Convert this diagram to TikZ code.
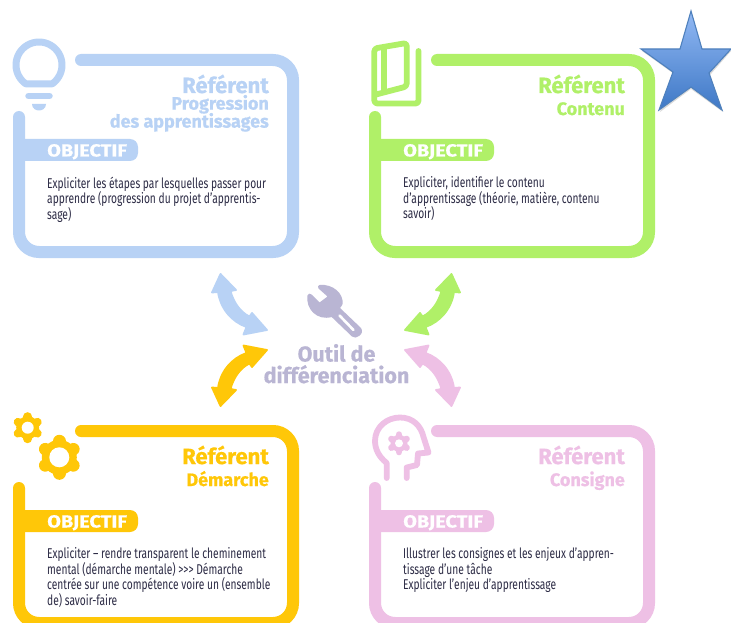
\documentclass[tikz,border=0pt]{standalone}
\usepackage{fontspec}
\setmainfont{Fira Sans}
\newfontfamily\bodyfont[FakeStretch=0.72]{Fira Sans}
\newfontfamily\headfont[BoldFont=Fira Sans Bold,BoldFeatures={FakeBold=0.6}]{Fira Sans}
\newfontfamily\tabfont[BoldFont=Fira Sans Bold,BoldFeatures={FakeBold=0.4,FakeStretch=1.14}]{Fira Sans}
\definecolor{cblue}{HTML}{B8D2F5}
\definecolor{cgreen}{HTML}{B0F068}
\definecolor{corange}{HTML}{FFC708}
\definecolor{cpink}{HTML}{EEC0E5}
\definecolor{cpurple}{HTML}{B9B5D3}
\definecolor{cbody}{HTML}{2C2B45}
\definecolor{startop}{HTML}{92B9F4}
\definecolor{starbot}{HTML}{3E78C6}
\definecolor{starline}{HTML}{4F81BD}
\tikzset{
  frame/.style={line width=12pt,line cap=round,rounded corners=20pt},
  icon/.style={line width=5.8pt,line cap=round,line join=round},
  tabtext/.style={anchor=base west,text=white,inner sep=0pt,font=\tabfont\bfseries\fontsize{17.5}{17.5}\selectfont},
  titletext/.style={anchor=base east,inner sep=0pt,font=\headfont\bfseries\fontsize{22}{22}\selectfont},
  subtext/.style={anchor=base east,inner sep=0pt,font=\headfont\bfseries\fontsize{18}{18}\selectfont},
  bodytext/.style={anchor=north west,inner sep=0pt,align=left,text=cbody,font=\bodyfont\fontsize{14.2}{15.6}\selectfont},
  swoosh/.style={line width=1.8pt,line join=round},
  centertext/.style={anchor=base,inner sep=0pt,text=cpurple,font=\headfont\bfseries\fontsize{21.5}{21.5}\selectfont}
}
% frame and tab of one card: #1 colour
\newcommand{\cardframe}[1]{%
  \draw[frame,draw=#1] (81,60) -- (293,60) -- (293,252) -- (19,252) -- (19,117);
  \fill[#1,rounded corners=8pt] (13,139) -- (138,139) -- (138,161) -- (13,161) -- cycle;
}
% gear: #1 centre, #2 body radius, #3 tooth reach, #4 tooth width, #5 hole radius, #6 colour
\newcommand{\gearicon}[6]{%
  \begin{scope}[shift={#1}]
    \fill[#6] (0,0) circle[radius=#2pt];
    \foreach \ang in {90,150,210,270,330,30}
      \draw[#6,line width=#4pt,line cap=round] (0,0) -- ({(#3-#4/2)*cos(\ang)},{(#3-#4/2)*sin(\ang)});
    \fill[white] (0,0) circle[radius=#5pt];
  \end{scope}
}
\newcommand{\swooshpath}[1]{%
  \filldraw[swoosh,draw=#1,fill=#1] (220.5,274) -- (212,292.5) -- (218,292)
    .. controls (220.5,309) and (232,322) .. (246.5,327) -- (243.5,334.5) -- (267,330) -- (252,313) -- (249.5,316.5)
    .. controls (240,312) and (233.5,302) .. (230.5,291) -- (236,290) -- cycle;
}
\begin{document}
\begin{tikzpicture}[x=1pt,y=-1pt]
\useasboundingbox (0,0) rectangle (731,623);
\clip (0,0) rectangle (731,623);
\fill[white] (0,0) rectangle (731,623);

% ---------- Card 1 : progression
\cardframe{cblue}
\node[titletext,text=cblue] (t1) at (269,93) {Référent};
\node[subtext,text=cblue] (s1a) at (269,109.6) {Progression};
\node[subtext,text=cblue] (s1b) at (269,127.6) {des apprentissages};
\node[tabtext] (o1) at (47,156.5) {OBJECTIF};
\node[bodytext] (b1) at (47,176.5) {Expliciter les étapes par lesquelles passer pour\\apprendre (progression du projet d’apprentis-\\sage)};
% bulb
\draw[cblue,line width=7pt,line join=round] plot[domain=-55:235,samples=50] ({39+23*cos(\x)},{65-23*sin(\x)}) -- cycle;
\draw[cblue,line width=6.5pt,line cap=round] (28.5,96) -- (49.5,96);
\fill[cblue] (32,104) -- (46,104) .. controls (46,108.5) and (42,110.5) .. (39,110.5) .. controls (36,110.5) and (32,108.5) .. (32,104) -- cycle;

% ---------- Card 2 : contenu
\begin{scope}[xshift=356pt]
\cardframe{cgreen}
\node[titletext,text=cgreen] (t2) at (269,93) {Référent};
\node[subtext,text=cgreen] (s2) at (269,115) {Contenu};
\node[tabtext] (o2) at (47,156.5) {OBJECTIF};
\node[bodytext] (b2) at (47,176.5) {Expliciter, identifier le contenu\\d’apprentissage (théorie, matière, contenu\\savoir)};
\end{scope}
% book
\draw[cgreen,icon,rounded corners=3pt] (418.5,51) -- (418.5,103.5) -- (374.3,103.5) -- (374.3,48.5) -- (406.7,43) -- (406.7,86.5) -- (376,94.5);
\draw[cgreen,line width=6pt] (384,46) -- (384,91);

% ---------- Card 3 : demarche
\begin{scope}[yshift=-371pt]
\cardframe{corange}
\node[titletext,text=corange] (t3) at (269,93) {Référent};
\node[subtext,text=corange] (s3) at (269,115) {Démarche};
\node[tabtext] (o3) at (47,156.5) {OBJECTIF};
\node[bodytext] (b3) at (47,176.5) {Expliciter – rendre transparent le cheminement\\mental (démarche mentale) >{}>{}> Démarche\\centrée sur une compétence voire un (ensemble\\de) savoir-faire};
\end{scope}
\gearicon{(27.7,427.7)}{11.5}{15.5}{8.5}{6}{corange}
\gearicon{(59.3,457.3)}{17.5}{22.5}{12.5}{10}{corange}

% ---------- Card 4 : consigne
\begin{scope}[xshift=356pt,yshift=-371pt]
\cardframe{cpink}
\node[titletext,text=cpink] (t4) at (269,93) {Référent};
\node[subtext,text=cpink] (s4) at (269,115) {Consigne};
\node[tabtext] (o4) at (47,156.5) {OBJECTIF};
\node[bodytext] (b4) at (47,176.5) {Illustrer les consignes et les enjeux d’appren-\\tissage d’une tâche\\Expliciter l’enjeu d’apprentissage};
\end{scope}
% head
\draw[cpink,icon] (386.7,478) -- (386.7,463) .. controls (379,457) and (375,449) .. (375,441)
  .. controls (375,427) and (387,417.5) .. (400,417.5) .. controls (413,417.5) and (421,426) .. (423.5,437)
  -- (428.5,452.5) -- (418,453.5) -- (417,465) -- (406.7,467.5) -- (406.7,478);
\gearicon{(399,443.3)}{8.5}{12}{6.5}{4}{cpink}

% ---------- Centre
\fill[cpurple] (319.5,285) .. controls (333,283.5) and (344,294) .. (342.5,304)
  .. controls (342,305.5) and (341,307) .. (340,308) -- (361,328)
  .. controls (363,331) and (362,334) .. (359,336) .. controls (357,338) and (354,338) .. (352,336.5)
  -- (331.7,317) .. controls (317,321) and (305.5,309) .. (307.5,295.5) .. controls (308,293.5) and (310,293) .. (311.5,294.5)
  -- (319.5,302.5) -- (327.5,296.5) -- (318.5,288.5) .. controls (317.5,287) and (318,285.5) .. (319.5,285) -- cycle;
\draw[white,line width=2.6pt,line cap=round] (339.5,315.5) -- (353.5,330);
\node[centertext] (c1) at (336.5,361.5) {Outil de};
\node[centertext] (c2) at (336.5,383) {différenciation};

% ---------- Arrows
\swooshpath{cblue}
\begin{scope}[cm={-1,0,0,1,(672pt,0pt)}]
\swooshpath{cgreen}
\end{scope}
\begin{scope}[cm={1,0,0,-1,(0pt,-680pt)}]
\swooshpath{corange}
\end{scope}
\begin{scope}[cm={-1,0,0,-1,(672pt,-680pt)}]
\swooshpath{cpink}
\end{scope}

% ---------- Star
\fill[black,opacity=.15] (691,13) -- (703,51) -- (731,51) -- (710,75) -- (723,112) -- (691,89) -- (660,112) -- (674,74) -- (642,51) -- (680,51) -- cycle;
\path[draw=starline,line width=1.1pt,line join=miter,top color=startop,bottom color=starbot] (691,11) -- (702,49) -- (731,49) -- (709,73) -- (722,110) -- (691,87) -- (659,110) -- (673,72) -- (641,49) -- (680,49) -- cycle;
\end{tikzpicture}
\end{document}
